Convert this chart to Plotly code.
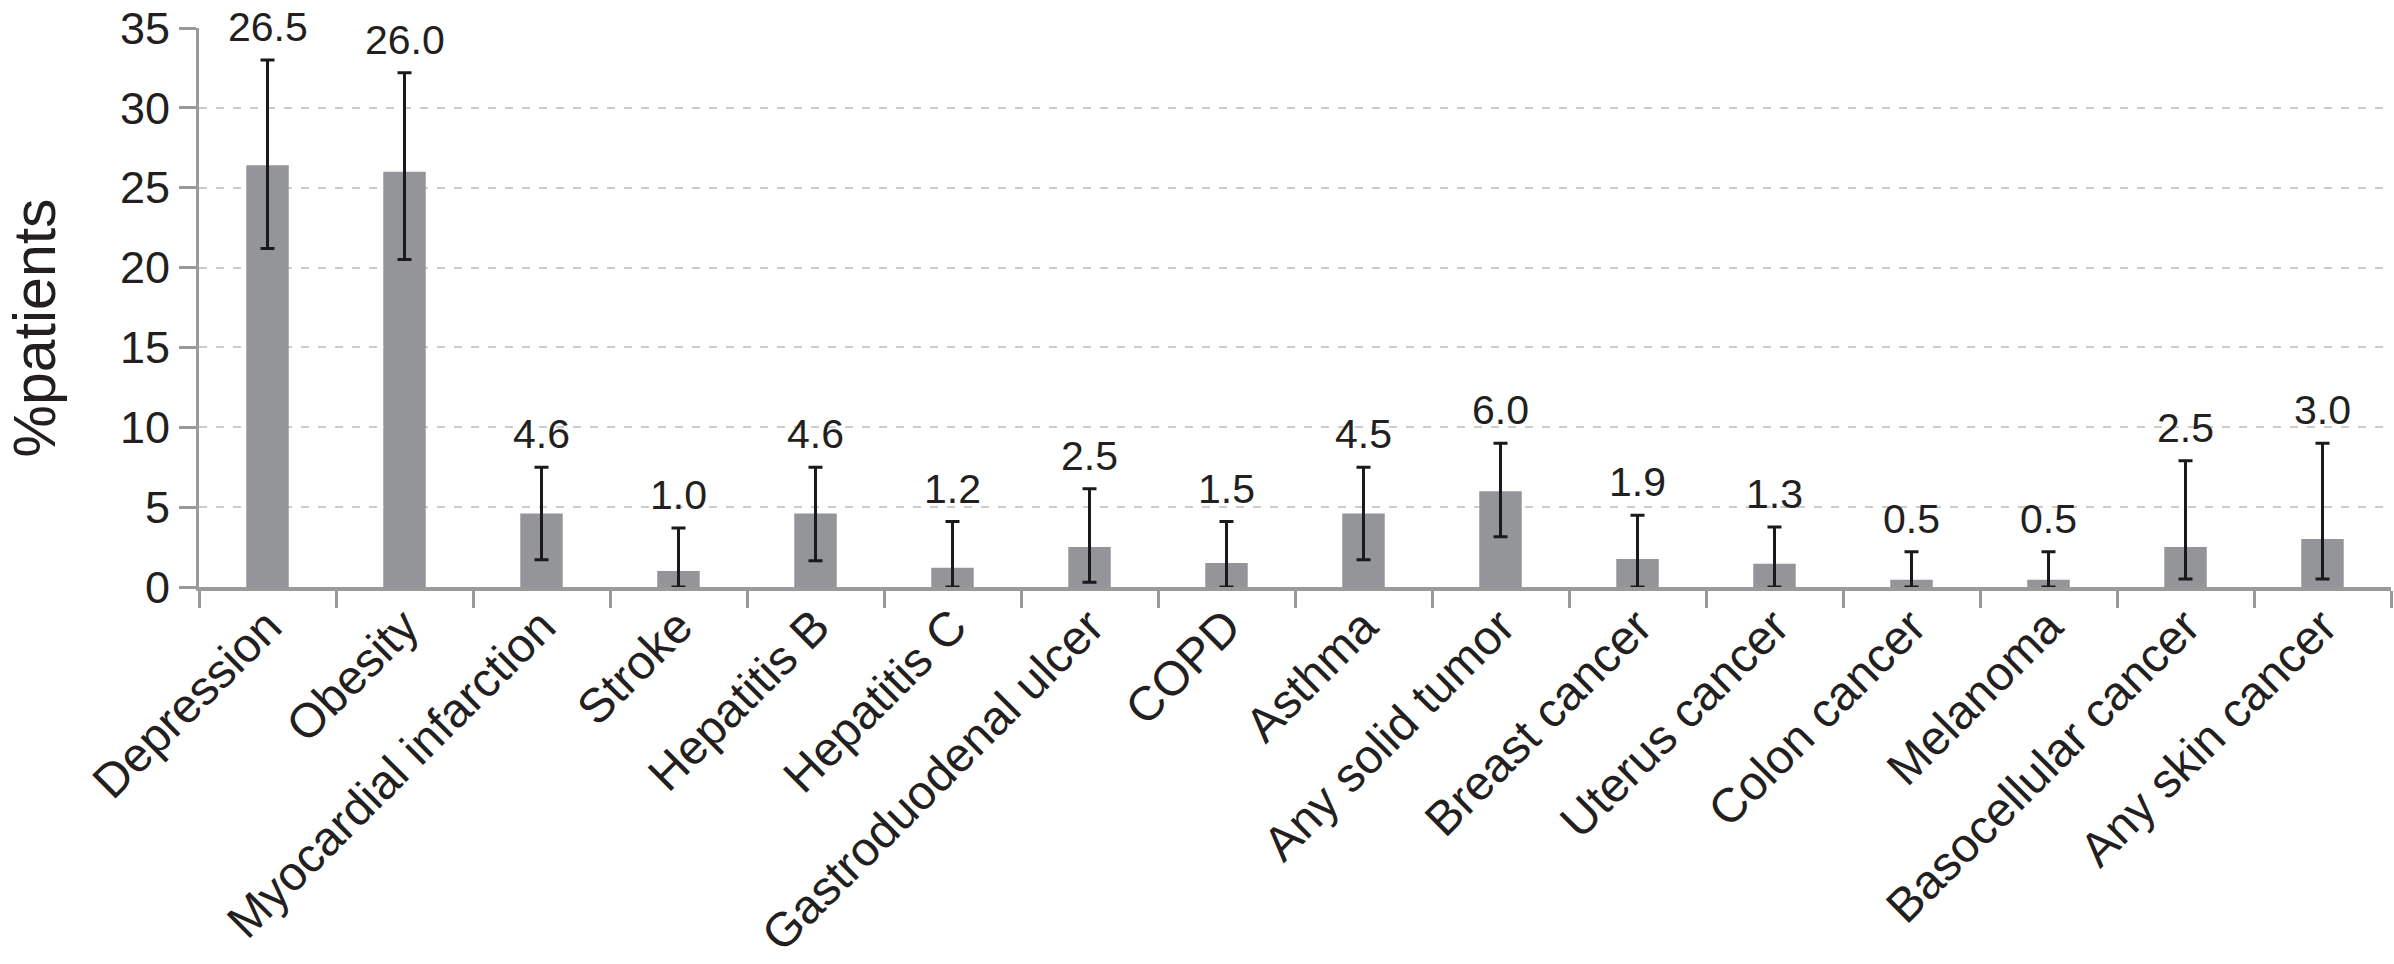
import plotly.graph_objects as go

categories = ["Depression", "Obesity", "Myocardial infarction", "Stroke", "Hepatitis B",
              "Hepatitis C", "Gastroduodenal ulcer", "COPD", "Asthma", "Any solid tumor",
              "Breast cancer", "Uterus cancer", "Colon cancer", "Melanoma",
              "Basocellular cancer", "Any skin cancer"]
bar_heights = [26.4, 26.0, 4.6, 1.0, 4.6, 1.2, 2.5, 1.5, 4.6, 6.0, 1.75, 1.45, 0.45, 0.45, 2.5, 3.0]
value_labels = ["26.5", "26.0", "4.6", "1.0", "4.6", "1.2", "2.5", "1.5", "4.5", "6.0",
                "1.9", "1.3", "0.5", "0.5", "2.5", "3.0"]
ci_upper = [33.0, 32.2, 7.5, 3.7, 7.5, 4.1, 6.15, 4.1, 7.5, 9.0, 4.5, 3.75, 2.2, 2.2, 7.9, 9.0]
ci_lower = [21.2, 20.5, 1.7, 0.0, 1.65, 0.0, 0.3, 0.0, 1.7, 3.15, 0.0, 0.0, 0.0, 0.0, 0.5, 0.5]
y_ticks = [0, 5, 10, 15, 20, 25, 30, 35]

FONT = "Liberation Sans, Arial, Helvetica, sans-serif"
TEXT = "#231f20"
AXIS = "#9a9a9a"

err_plus = [u - v for u, v in zip(ci_upper, bar_heights)]
err_minus = [v - l for v, l in zip(bar_heights, ci_lower)]

fig = go.Figure()
fig.add_trace(go.Bar(
    x=categories, y=bar_heights, width=0.31,
    marker=dict(color="#939598", line=dict(width=0)),
    error_y=dict(type="data", symmetric=False, array=err_plus, arrayminus=err_minus,
                 color="#1a1a1a", thickness=3, width=7),
    showlegend=False, hoverinfo="skip",
))

for c, u, t in zip(categories, ci_upper, value_labels):
    fig.add_annotation(x=c, y=u, text=t, showarrow=False, yanchor="bottom",
                       yshift=8, font=dict(family=FONT, size=41, color=TEXT))

fig.add_annotation(xref="paper", yref="paper", x=0, y=0.5, xshift=-200, yshift=-21,
                   text="%patients", textangle=-90, showarrow=False,
                   font=dict(family=FONT, size=59, color=TEXT))

fig.update_layout(
    width=2394, height=964,
    margin=dict(l=199, r=3, t=28, b=375),
    paper_bgcolor="white", plot_bgcolor="white",
    font=dict(family=FONT, color=TEXT),
    bargap=0.69,
)
fig.update_xaxes(
    type="category", tickangle=-45, tickfont=dict(family=FONT, size=48, color=TEXT),
    showline=True, linecolor=AXIS, linewidth=4,
    ticks="outside", tickson="boundaries", ticklen=17, tickwidth=2.5, tickcolor=AXIS,
    ticklabelstandoff=-12,
    showgrid=False,
)
fig.update_yaxes(
    range=[0, 35], tickvals=y_ticks, tickfont=dict(family=FONT, size=45, color=TEXT),
    showline=True, linecolor=AXIS, linewidth=3,
    ticks="outside", ticklen=17, tickwidth=2.5, tickcolor=AXIS,
    showgrid=True, gridcolor="#cccccc", gridwidth=2, griddash="8px,9px",
    zeroline=False,
)

fig.write_html("out.html", config={"displayModeBar": False},
               post_script="document.body.style.margin='0';document.body.style.overflow='hidden';")
